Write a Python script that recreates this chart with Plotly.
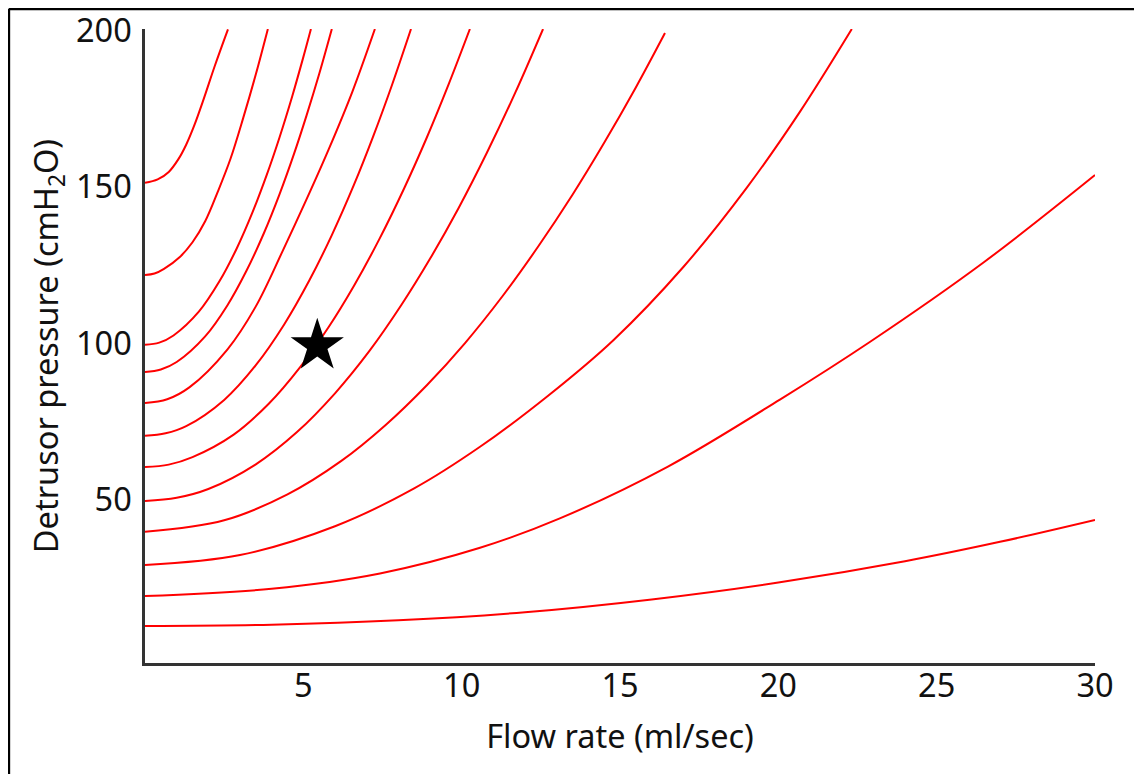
import plotly.graph_objects as go

# Each curve: flow rate (ml/sec) and detrusor pressure (cmH2O) points
c10_x = [0, 4, 8, 12, 16, 20, 24, 27, 30]
c10_y = [9.6, 10.0, 11.4, 14.0, 18.1, 23.5, 30.3, 36.5, 43.5]

c20_x = [0, 4, 7.42, 10.58, 13.1, 16.5, 20.05, 22.9, 26.5, 30]
c20_y = [19.2, 21.5, 26.4, 34.6, 44.0, 60.5, 82.0, 100.5, 126.0, 153.8]

c30_x = [0, 3, 6, 8.5, 10.58, 12.7, 14.79, 17, 19, 20.68, 22.32]
c30_y = [29.1, 32.3, 41.5, 53.6, 66.9, 83.0, 101.0, 124.4, 149.7, 174.0, 200.5]

c40_x = [0, 2.5, 4.5, 6.2, 7.6, 8.9, 10.1, 11.3, 12.4, 13.5, 14.5, 15.5, 16.42]
c40_y = [39.7, 43.4, 51.7, 62.4, 73.9, 86.6, 100.0, 115.2, 130.7, 147.5, 164.1, 181.8, 199.2]

c50_x = [0, 1, 2, 3.5, 4.8, 6, 7.1, 8.1, 9, 9.9, 10.8, 11.7, 12.57]
c50_y = [49.6, 50.6, 53.4, 61.3, 71.6, 84.0, 97.7, 112.3, 127.0, 143.2, 161.0, 180.3, 200.5]

c60_x = [0, 0.75, 1.5, 2.8, 3.9, 4.9, 5.8, 6.6, 7.4, 8.2, 8.9, 9.6, 10.26]
c60_y = [60.4, 61.2, 63.6, 70.8, 80.6, 92.4, 105.2, 118.4, 133.3, 149.9, 165.8, 183.1, 200.5]

c70_x = [0, 0.65, 1.3, 2.5, 3.5, 4.4, 5.2, 5.9, 6.6, 7.2, 7.8, 8.4]
c70_y = [70.4, 71.2, 73.5, 81.9, 93.0, 106.1, 120.3, 134.6, 150.7, 166.0, 182.6, 200.5]

c80_x = [0, 0.7, 1.4, 2.6, 3.5, 4.36, 5.1, 5.8, 6.55, 7.26]
c80_y = [80.9, 82.1, 85.9, 98.0, 111.8, 129.8, 146.0, 162.0, 180.5, 200.5]

c90_x = [0, 0.5, 1, 1.9, 2.6, 3.2, 3.75, 4.25, 4.7, 5.1, 5.5, 5.9]
c90_y = [90.8, 91.6, 94.0, 102.2, 112.1, 123.1, 135.1, 147.7, 160.4, 172.8, 186.1, 200.5]

c100_x = [0, 0.45, 0.9, 1.7, 2.35, 2.9, 3.4, 3.85, 4.25, 4.65, 5.0, 5.24]
c100_y = [99.5, 100.2, 102.5, 110.1, 119.8, 130.4, 142.0, 154.0, 165.9, 179.0, 191.5, 200.5]

c120_x = [0, 0.3, 0.6, 1.1, 1.5, 1.9, 2.3, 2.7, 3.1, 3.5, 3.88]
c120_y = [121.8, 122.3, 123.8, 127.6, 132.3, 139.0, 148.5, 159.0, 172.0, 186.0, 200.5]

c150_x = [0, 0.4, 0.75, 1.05, 1.3, 1.55, 1.85, 2.2, 2.62]
c150_y = [151.3, 152.4, 154.8, 158.8, 163.5, 169.5, 178.0, 188.6, 200.4]

curves = [
    (c10_x, c10_y), (c20_x, c20_y), (c30_x, c30_y), (c40_x, c40_y),
    (c50_x, c50_y), (c60_x, c60_y), (c70_x, c70_y), (c80_x, c80_y),
    (c90_x, c90_y), (c100_x, c100_y), (c120_x, c120_y), (c150_x, c150_y),
]

star_x = [5.44]
star_y = [99.2]

x_ticks = [5, 10, 15, 20, 25, 30]
y_ticks = [50, 100, 150, 200]

FONT = "Noto Sans, Open Sans, DejaVu Sans, sans-serif"
TXT = "#111111"

fig = go.Figure()
for cx, cy in curves:
    fig.add_trace(go.Scatter(
        x=cx, y=cy, mode="lines",
        line=dict(color="#ff0000", width=2, shape="spline", smoothing=1.0),
        hoverinfo="skip", showlegend=False,
    ))

fig.add_trace(go.Scatter(
    x=star_x, y=star_y, mode="markers",
    marker=dict(symbol="star", size=40, color="black", line=dict(width=0)),
    showlegend=False, hoverinfo="skip",
))

# page body has an 8px margin, so the figure is sized/offset to compensate
fig.update_layout(
    width=1134, height=766,
    margin=dict(l=137, r=47, t=21, b=111, autoexpand=False),
    paper_bgcolor="white", plot_bgcolor="white",
    font=dict(family=FONT, color=TXT, size=32),
    showlegend=False,
    xaxis=dict(
        range=[0, 30], tickvals=x_ticks, ticktext=[str(v) for v in x_ticks],
        showgrid=False, zeroline=False, showline=True, automargin=False,
        linecolor="#333333", linewidth=2.5, ticks="", ticklen=0,
        ticklabelstandoff=-8, ticklabeloverflow="allow",
        tickfont=dict(size=32.5, family=FONT, color=TXT),
        title=dict(text="Flow rate (ml/sec)", font=dict(size=32.5, family=FONT, color=TXT), standoff=20),
    ),
    yaxis=dict(
        range=[-2.24, 200.5], tickvals=y_ticks, ticktext=[str(v) for v in y_ticks],
        showgrid=False, zeroline=False, showline=True, automargin=False,
        linecolor="#333333", linewidth=2.5,
        ticks="outside", ticklen=4, tickcolor="rgba(0,0,0,0)",
        ticklabeloverflow="allow",
        tickfont=dict(size=32.5, family=FONT, color=TXT),
        title=dict(text="Detrusor pressure (cmH<sub>2</sub>O)", font=dict(size=32.5, family=FONT, color=TXT), standoff=8),
    ),
    shapes=[
        dict(type="line", xref="paper", yref="paper", x0=-0.1435, x1=1.1, y0=1.0315, y1=1.0315,
             line=dict(color="black", width=2.5)),
        dict(type="line", xref="paper", yref="paper", x0=-0.1435, x1=-0.1435, y0=1.0315, y1=-0.25,
             line=dict(color="black", width=3)),
    ],
)

fig.write_html("out.html")
